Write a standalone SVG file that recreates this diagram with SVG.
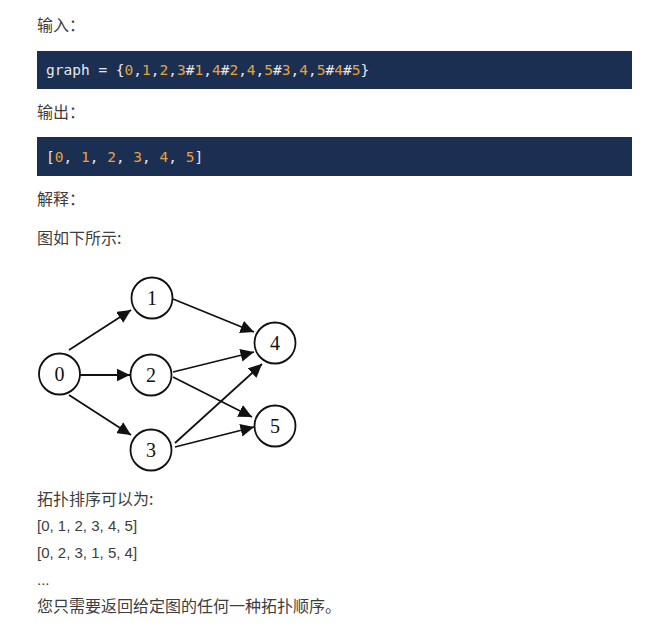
<svg xmlns="http://www.w3.org/2000/svg" width="655" height="628" viewBox="0 0 655 628">
<style>
.t{font-family:"Noto Sans CJK SC","Liberation Sans",sans-serif;font-size:16px;fill:#3d3d3d}
.l{font-family:"Liberation Sans",Arial,sans-serif;font-size:15px;fill:#3d3d3d}
.code{font-family:"DejaVu Sans Mono","Liberation Mono",monospace;font-size:14.5px;fill:#e8e8e8;font-weight:500}
.n{fill:#e8a23a}
.box{fill:#1b2f53}
.node circle{fill:#fff;stroke:#111;stroke-width:1.8}
.node text{font-family:"Liberation Serif","Times New Roman",serif;font-size:20px;fill:#111;text-anchor:middle}
.edges line{stroke:#111;stroke-width:1.8;marker-end:url(#ah)}
</style>
<defs>
<marker id="ah" markerUnits="userSpaceOnUse" markerWidth="14" markerHeight="13" refX="13.5" refY="6.5" orient="auto">
<path d="M0,0 L13.5,6.5 L0,13 z" fill="#111"/>
</marker>
</defs>
<rect width="655" height="628" fill="#fff"/>
<text class="t" x="37" y="31">输入：</text>
<rect class="box" x="37" y="51" width="595" height="38"/>
<text class="code" x="46" y="75">graph = {<tspan class="n">0</tspan>,<tspan class="n">1</tspan>,<tspan class="n">2</tspan>,<tspan class="n">3</tspan>#<tspan class="n">1</tspan>,<tspan class="n">4</tspan>#<tspan class="n">2</tspan>,<tspan class="n">4</tspan>,<tspan class="n">5</tspan>#<tspan class="n">3</tspan>,<tspan class="n">4</tspan>,<tspan class="n">5</tspan>#<tspan class="n">4</tspan>#<tspan class="n">5</tspan>}</text>
<text class="t" x="37" y="118">输出：</text>
<rect class="box" x="37" y="137" width="595" height="39"/>
<text class="code" x="46" y="162">[<tspan class="n">0</tspan>, <tspan class="n">1</tspan>, <tspan class="n">2</tspan>, <tspan class="n">3</tspan>, <tspan class="n">4</tspan>, <tspan class="n">5</tspan>]</text>
<text class="t" x="37" y="205">解释：</text>
<text class="t" x="37" y="244">图如下所示:</text>
<g class="edges">
<line x1="69" y1="350" x2="131" y2="310"/>
<line x1="80" y1="375" x2="130" y2="375"/>
<line x1="69" y1="395" x2="131" y2="435"/>
<line x1="173" y1="299" x2="254" y2="332"/>
<line x1="173" y1="372" x2="254" y2="352"/>
<line x1="173" y1="377" x2="252" y2="417"/>
<line x1="175" y1="443" x2="262" y2="364"/>
<line x1="175" y1="447" x2="254" y2="427"/>
</g>
<g id="node0" class="node"><circle cx="59.5" cy="374" r="20.5"/><text x="59.5" y="381">0</text></g>
<g id="node1" class="node"><circle cx="152" cy="298" r="20.5"/><text x="152" y="305">1</text></g>
<g id="node2" class="node"><circle cx="151" cy="375" r="20.5"/><text x="151" y="382">2</text></g>
<g id="node3" class="node"><circle cx="151" cy="450" r="20.5"/><text x="151" y="457">3</text></g>
<g id="node4" class="node"><circle cx="275" cy="343" r="20.5"/><text x="275" y="350">4</text></g>
<g id="node5" class="node"><circle cx="275" cy="426" r="20.5"/><text x="275" y="433">5</text></g>
<text class="t" x="37" y="505">拓扑排序可以为:</text>
<text class="l" x="37" y="531">[0, 1, 2, 3, 4, 5]</text>
<text class="l" x="37" y="558">[0, 2, 3, 1, 5, 4]</text>
<text class="l" x="37" y="585">...</text>
<text class="t" x="37" y="612">您只需要返回给定图的任何一种拓扑顺序。</text>
</svg>
